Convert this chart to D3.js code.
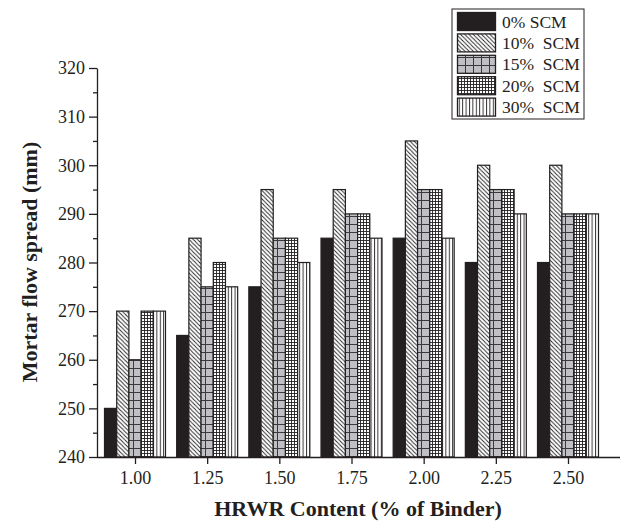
<!DOCTYPE html>
<html>
<head>
<meta charset="utf-8">
<script src="https://cdn.jsdelivr.net/npm/d3@7"></script>
<style>
  html, body { margin: 0; padding: 0; background: #fff; }
  svg { display: block; font-family: "Liberation Serif", "Times New Roman", serif; }
</style>
</head>
<body>
<svg id="chart" width="622" height="526"></svg>
<script>
// HRWR dosage levels (% of binder) on the x axis
const categories = ["1.00", "1.25", "1.50", "1.75", "2.00", "2.25", "2.50"];
// Replacement levels of supplementary cementitious material
const seriesNames = ["0% SCM", "10%  SCM", "15%  SCM", "20%  SCM", "30%  SCM"];
// Mortar flow spread (mm), one array per SCM level
const scm0  = [250, 265, 275, 285, 285, 280, 280];
const scm10 = [270, 285, 295, 295, 305, 300, 300];
const scm15 = [260, 275, 285, 290, 295, 295, 290];
const scm20 = [270, 280, 285, 290, 295, 295, 290];
const scm30 = [270, 275, 280, 285, 285, 290, 290];
const seriesValues = [scm0, scm10, scm15, scm20, scm30];
const yTicks = [240, 250, 260, 270, 280, 290, 300, 310, 320];

const svg = d3.select("#chart");
const plot = { left: 97, right: 620, top: 68, bottom: 457 };
const ink = "#231f20";

// Fill patterns for each series
const defs = svg.append("defs");
function pat(id, w, h, draw) {
  const p = defs.append("pattern").attr("id", id)
    .attr("patternUnits", "userSpaceOnUse").attr("width", w).attr("height", h);
  draw(p);
}
pat("p10", 4.2, 4.2, p => {
  p.append("rect").attr("width", 4.2).attr("height", 4.2).attr("fill", "#fff");
  p.append("path").attr("d", "M-1,-1 L5.2,5.2 M-1,3.2 L1,5.2 M3.2,-1 L5.2,1")
    .attr("stroke", ink).attr("stroke-width", 0.9);
});
pat("p15", 8, 8, p => {
  p.append("rect").attr("width", 8).attr("height", 8).attr("fill", "#bfbfc4");
  p.append("path").attr("d", "M0,0.5 H8 M5.5,0 V8")
    .attr("stroke", "#3a3a3c").attr("stroke-width", 1);
});
pat("p20", 3, 3, p => {
  p.append("rect").attr("width", 3).attr("height", 3).attr("fill", "#fff");
  p.append("path").attr("d", "M0,0.5 H3 M0.5,0 V3")
    .attr("stroke", ink).attr("stroke-width", 0.9);
});
pat("p30", 3.4, 4, p => {
  p.append("rect").attr("width", 3.4).attr("height", 4).attr("fill", "#fff");
  p.append("path").attr("d", "M0.5,0 V4").attr("stroke", ink).attr("stroke-width", 0.9);
});
const fills = [ink, "url(#p10)", "url(#p15)", "url(#p20)", "url(#p30)"];

// Scales: group centres on a point scale, values on a linear scale
const x = d3.scalePoint().domain(categories).range([135, 568]);
const y = d3.scaleLinear().domain([240, 320]).range([plot.bottom, plot.top]);
const barW = 12.2;
const groupW = barW * seriesNames.length;

// Bars
seriesValues.forEach((vals, s) => {
  svg.append("g").selectAll("rect").data(categories).join("rect")
    .attr("x", c => x(c) - groupW / 2 + s * barW)
    .attr("y", (c, i) => y(vals[i]))
    .attr("width", barW)
    .attr("height", (c, i) => y(240) - y(vals[i]))
    .attr("fill", fills[s])
    .attr("stroke", ink).attr("stroke-width", 1.2);
});

// Y axis with minor ticks
svg.append("g").attr("transform", `translate(${plot.left},0)`)
  .call(d3.axisLeft(y).tickValues(yTicks).tickSize(8).tickSizeOuter(0).tickPadding(4).tickFormat(d3.format("d")));
svg.append("g").attr("transform", `translate(${plot.left},0)`)
  .call(d3.axisLeft(y).tickValues(yTicks.slice(0, -1).map(v => v + 5)).tickSize(4).tickFormat(""))
  .select(".domain").remove();

// X axis; its baseline runs the full plot width
const xAxis = svg.append("g").attr("transform", `translate(0,${plot.bottom})`)
  .call(d3.axisBottom(x).tickSize(7).tickPadding(7).tickSizeOuter(0));
xAxis.select(".domain").attr("d", `M${plot.left},0.5H${plot.right}`);

svg.selectAll(".tick line, .domain").attr("stroke", ink).attr("stroke-width", 1.3);
svg.selectAll(".tick text").attr("font-size", 18).attr("fill", ink)
  .attr("font-family", "Liberation Serif, serif");

// Axis titles
svg.append("text").attr("x", 358).attr("y", 516).attr("text-anchor", "middle")
  .attr("font-size", 22).attr("font-weight", "bold").attr("fill", ink)
  .text("HRWR Content (% of Binder)");
svg.append("text").attr("transform", "translate(37,262) rotate(-90)")
  .attr("text-anchor", "middle").attr("font-size", 22).attr("font-weight", "bold").attr("fill", ink)
  .text("Mortar flow spread (mm)");

// Legend
const lg = svg.append("g").attr("transform", "translate(452,9)");
lg.append("rect").attr("width", 132).attr("height", 110)
  .attr("fill", "#fff").attr("stroke", ink).attr("stroke-width", 1);
seriesNames.forEach((name, s) => {
  const yy = 3.5 + s * 21.4;
  lg.append("rect").attr("x", 5.5).attr("y", yy).attr("width", 38).attr("height", 18)
    .attr("fill", fills[s]).attr("stroke", ink).attr("stroke-width", 1.3);
  lg.append("text").attr("x", 50).attr("y", yy + 15)
    .attr("font-size", 17.5).attr("fill", ink).attr("xml:space", "preserve")
    .style("white-space", "pre").text(name);
});
</script>
</body>
</html>
